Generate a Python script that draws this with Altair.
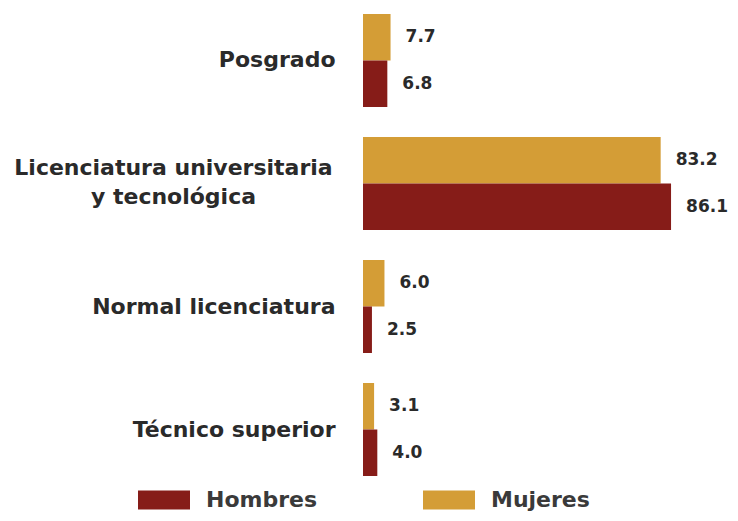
import altair as alt
import pandas as pd

categories = ["Posgrado", "Licenciatura universitaria|y tecnológica", "Normal licenciatura", "Técnico superior"]
mujeres = [7.7, 83.2, 6.0, 3.1]
hombres = [6.8, 86.1, 2.5, 4.0]
series = ["Hombres", "Mujeres"]
colors = ["#861c18", "#d49d36"]

rows = []
for c, m, h in zip(categories, mujeres, hombres):
    rows.append({"cat": c, "sexo": "Mujeres", "val": m})
    rows.append({"cat": c, "sexo": "Hombres", "val": h})
df = pd.DataFrame(rows)

FONT = "DejaVu Sans"
TXT = "#2a2a2a"
MULTI = "indexof(datum.value, '|') >= 0"

y = alt.Y("cat:N", sort=categories, title=None,
          scale=alt.Scale(paddingInner=0.244, paddingOuter=0),
          axis=alt.Axis(domain=False, ticks=False,
                        labelPadding={"condition": {"test": MULTI, "value": 190}, "value": 28},
                        labelAlign={"condition": {"test": MULTI, "value": "center"}, "value": "right"},
                        labelFont=FONT, labelFontSize=22, labelFontWeight="bold",
                        labelColor=TXT, labelLimit=600, labelLineHeight=29,
                        labelOffset={"condition": {"test": MULTI, "value": -15}, "value": 0},
                        labelExpr="split(datum.label, '|')"))
yoff = alt.YOffset("sexo:N", sort=["Mujeres", "Hombres"],
                   scale=alt.Scale(paddingInner=0, paddingOuter=0))
x = alt.X("val:Q", scale=alt.Scale(domain=[0, 90]), axis=None)

bars = alt.Chart(df).mark_bar().encode(
    y=y, yOffset=yoff, x=x,
    color=alt.Color("sexo:N", scale=alt.Scale(domain=series, range=colors),
                    legend=alt.Legend(title=None, orient="none", legendX=-225, legendY=460,
                                      direction="horizontal",
                                      symbolType="M-1,-0.37L1,-0.37L1,0.37L-1,0.37Z",
                                      symbolSize=2704, symbolOpacity=1, symbolStrokeWidth=0,
                                      labelFont=FONT, labelFontSize=22, labelFontWeight="bold",
                                      labelColor="#3a3a3a",
                                      labelOffset=16, columnPadding=105, padding=0)),
)

labels = alt.Chart(df).mark_text(align="left", baseline="middle", dx=15,
                                 font=FONT, fontSize=17, fontWeight="bold", color=TXT).encode(
    y=y, yOffset=yoff, x=x,
    text=alt.Text("val:Q", format=".1f"),
)

chart = (bars + labels).properties(
    width=322, height=462,
    background="white",
    autosize=alt.AutoSizeParams(type="none"),
    padding={"left": 355, "top": 6, "right": 45, "bottom": 37},
).configure_view(stroke=None)

chart.save("out.html", embed_options={"renderer": "svg", "actions": False})
